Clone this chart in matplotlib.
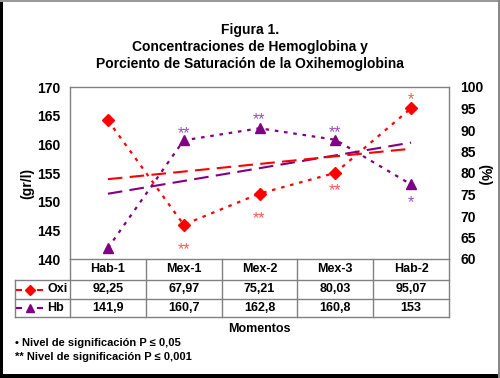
import numpy as np
import matplotlib
matplotlib.use("Agg")
import matplotlib.pyplot as plt
from matplotlib.patches import Rectangle
from matplotlib.lines import Line2D

plt.rcParams["font.family"] = ["Liberation Sans", "DejaVu Sans"]
plt.rcParams["font.weight"] = "bold"

# ── Data ──────────────────────────────────────────────────────────────────
categories = ["Hab-1", "Mex-1", "Mex-2", "Mex-3", "Hab-2"]
oxi_vals = [92.25, 67.97, 75.21, 80.03, 95.07]       # % (right axis)
hb_vals = [141.9, 160.7, 162.8, 160.8, 153.0]        # gr/l (left axis)
oxi_labels = ["92,25", "67,97", "75,21", "80,03", "95,07"]
hb_labels = ["141,9", "160,7", "162,8", "160,8", "153"]
oxi_sig = ["", "**", "**", "**", "*"]
hb_sig = ["", "**", "**", "**", "*"]

W, H = 500, 378
RED = "#FF0000"
PURPLE = "#800080"
RED_STAR = "#FF5a5a"
PURPLE_STAR = "#9B4FB8"
GRID = "#808080"


def fx(px):
    return px / W


def fy(py):
    return 1 - py / H


fig = plt.figure(figsize=(W / 100, H / 100), dpi=100)
fig.patch.set_facecolor("white")

# outer frame
fig.add_artist(Rectangle((0, 0), fx(3), 1, transform=fig.transFigure, color="black", lw=0))
fig.add_artist(Rectangle((0, 0), 1, 4 / H, transform=fig.transFigure, color="black", lw=0))
fig.add_artist(Rectangle((0, 1 - 2 / H), 1, 2 / H, transform=fig.transFigure, color="#999999", lw=0))
fig.add_artist(Rectangle((1 - 2 / W, 0), 2 / W, 1, transform=fig.transFigure, color="#888888", lw=0))

# titles
for txt, py in [("Figura 1.", 30), ("Concentraciones de Hemoglobina y", 47),
                ("Porciento de Saturación de la Oxihemoglobina", 64)]:
    fig.text(0.5, fy(py), txt, ha="center", va="center", fontsize=10, fontweight="bold")

# ── Main axes ─────────────────────────────────────────────────────────────
L, R, T, B = 70, 449, 87, 259
ax = fig.add_axes([fx(L), fy(B), fx(R - L), fy(T) - fy(B)])
x = np.arange(1, len(categories) + 1)
ax.set_xlim(0.5, len(categories) + 0.5)
ax.set_ylim(140, 170)
ax.set_yticks(np.arange(140, 171, 5))
ax.set_xticks([])
ax.tick_params(axis="y", length=0, labelsize=10, pad=7)
for s in ax.spines.values():
    s.set_color(GRID)
    s.set_linewidth(1)

ax2 = ax.twinx()
ax2.set_ylim(60, 100)
ax2.set_yticks(np.arange(60, 101, 5))
ax2.tick_params(axis="y", length=0, labelsize=10, pad=8)
for s in ax2.spines.values():
    s.set_visible(False)
for lbl in ax2.get_yticklabels() + ax.get_yticklabels():
    lbl.set_fontweight("bold")

fig.text(fx(27), fy(183), "(gr/l)", rotation=90, ha="center", va="center",
         fontsize=10, fontweight="bold")
fig.text(fx(484), fy(175), "(%)", rotation=270, ha="center", va="center",
         fontsize=10, fontweight="bold")

dot = (0, (1.6, 2.6))
dash = (0, (7, 3.5))

ax2.plot(x, oxi_vals, color=RED, ls=dot, lw=1.6, marker="D", ms=6.5, zorder=3)
ax.plot(x, hb_vals, color=PURPLE, ls=dot, lw=1.6, marker="^", ms=7, zorder=3)

# linear trends
p_oxi = np.polyfit(x, oxi_vals, 1)
p_hb = np.polyfit(x, hb_vals, 1)
ax2.plot(x[[0, -1]], np.polyval(p_oxi, x[[0, -1]]), color=RED, ls=dash, lw=1.5, zorder=2)
ax.plot(x[[0, -1]], np.polyval(p_hb, x[[0, -1]]), color=PURPLE, ls=dash, lw=1.5, zorder=2)

# significance marks
oxi_off = [0, -18, -18, -13, 6]
hb_off = [0, 5, 6, 5, -13]
for i in range(len(categories)):
    if oxi_sig[i]:
        ax2.annotate(oxi_sig[i], (x[i], oxi_vals[i]), xytext=(0, oxi_off[i]),
                     textcoords="offset points", ha="center", va="center",
                     color=RED_STAR, fontsize=11.5, fontweight="normal")
    if hb_sig[i]:
        ax.annotate(hb_sig[i], (x[i], hb_vals[i]), xytext=(0, hb_off[i]),
                    textcoords="offset points", ha="center", va="center",
                    color=PURPLE_STAR, fontsize=11.5, fontweight="normal")

# ── Data table ────────────────────────────────────────────────────────────
TL = 15
rows = [259, 280, 299, 317]
cols = np.linspace(L, R, len(categories) + 1)


def hline(py, x0, x1):
    fig.add_artist(Line2D([fx(x0), fx(x1)], [fy(py), fy(py)], color=GRID, lw=1))


def vline(px, y0, y1):
    fig.add_artist(Line2D([fx(px), fx(px)], [fy(y0), fy(y1)], color=GRID, lw=1))


hline(rows[1], TL, R)
hline(rows[2], TL, R)
hline(rows[3], TL, R)
vline(TL, rows[1], rows[3])
for c in cols:
    vline(c, rows[0], rows[3])

centers = (cols[:-1] + cols[1:]) / 2
for i, c in enumerate(centers):
    fig.text(fx(c), fy((rows[0] + rows[1]) / 2), categories[i], ha="center", va="center",
             fontsize=9, fontweight="bold")
    fig.text(fx(c), fy((rows[1] + rows[2]) / 2), oxi_labels[i], ha="center", va="center",
             fontsize=9, fontweight="bold")
    fig.text(fx(c), fy((rows[2] + rows[3]) / 2), hb_labels[i], ha="center", va="center",
             fontsize=9, fontweight="bold")

# legend keys inside table
for (py, col, mk, ms, name) in [((rows[1] + rows[2]) / 2, RED, "D", 5, "Oxi"),
                                ((rows[2] + rows[3]) / 2, PURPLE, "^", 6, "Hb")]:
    for x0, x1 in [(17, 21), (38, 42)]:
        fig.add_artist(Line2D([fx(x0), fx(x1)], [fy(py), fy(py)], color=col, lw=1.5))
    fig.add_artist(Line2D([fx(29.5)], [fy(py)], color=col, marker=mk, ms=ms, lw=0))
    fig.text(fx(47), fy(py), name, ha="left", va="center", fontsize=9, fontweight="bold")

fig.text(fx((L + R) / 2), fy(329), "Momentos", ha="center", va="center",
         fontsize=9, fontweight="bold")
fig.text(fx(15), fy(343), "• Nivel de significación P ≤ 0,05", ha="left", va="center",
         fontsize=8, fontweight="bold")
fig.text(fx(15), fy(357), "** Nivel de significación P ≤ 0,001", ha="left", va="center",
         fontsize=8, fontweight="bold")

fig.savefig("out.png", dpi=100)
